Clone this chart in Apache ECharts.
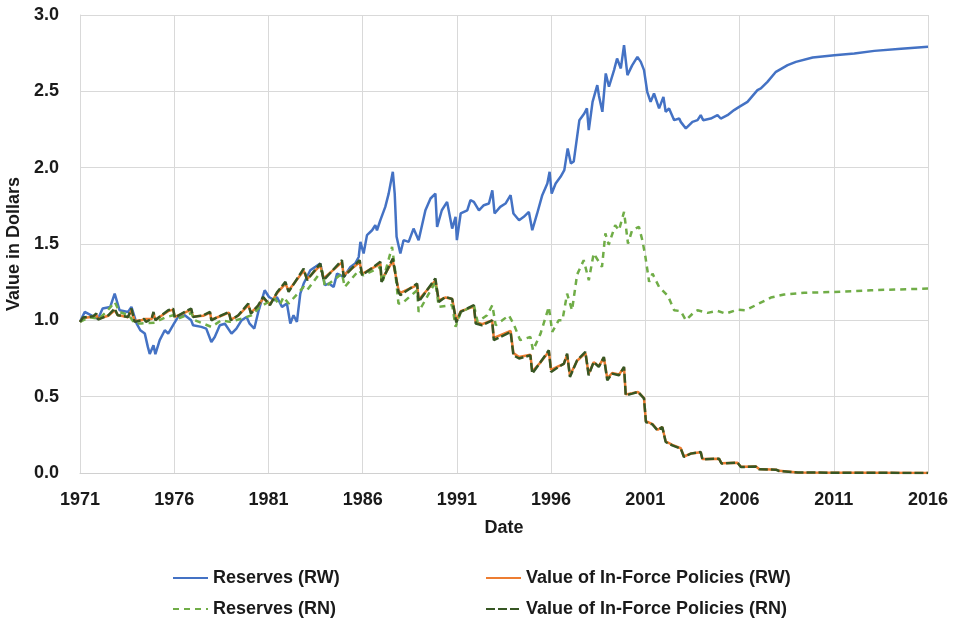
<!DOCTYPE html>
<html>
<head>
<meta charset="utf-8">
<script src="https://cdn.jsdelivr.net/npm/echarts@6/dist/echarts.min.js"></script>
<style>
	html, body { margin: 0; padding: 0; background: #fff; }
	#chart { width: 954px; height: 622px; }
</style>
</head>
<body>
<div id="chart"></div>
<script>
var BASE_YEAR = 1971;
var axisYears = [1971, 1976, 1981, 1986, 1991, 1996, 2001, 2006, 2011, 2016];
var seriesNames = ['Reserves (RW)', 'Value of In-Force Policies (RW)', 'Reserves (RN)', 'Value of In-Force Policies (RN)'];

// Reserves (RW)
var reservesRWYears = [1971.0, 1971.25, 1971.6, 1971.96, 1972.2, 1972.6, 1972.84, 1973.1, 1973.55, 1973.73, 1974.0, 1974.2, 1974.44, 1974.6, 1974.7, 1974.9, 1975.0, 1975.23, 1975.5, 1975.68, 1975.94, 1976.2, 1976.56, 1976.9, 1977.0, 1977.44, 1977.7, 1977.97, 1978.15, 1978.42, 1978.69, 1979.04, 1979.3, 1979.57, 1979.84, 1980.0, 1980.25, 1980.46, 1980.8, 1981.03, 1981.34, 1981.45, 1981.72, 1981.98, 1982.16, 1982.33, 1982.51, 1982.69, 1982.87, 1983.22, 1983.49, 1983.75, 1984.0, 1984.2, 1984.46, 1984.64, 1985.0, 1985.35, 1985.6, 1985.79, 1985.88, 1986.05, 1986.23, 1986.5, 1986.67, 1986.76, 1986.94, 1987.2, 1987.38, 1987.6, 1987.7, 1987.8, 1988.0, 1988.17, 1988.44, 1988.7, 1988.97, 1989.33, 1989.6, 1989.86, 1989.95, 1990.2, 1990.48, 1990.75, 1990.93, 1991.0, 1991.2, 1991.55, 1991.72, 1991.9, 1992.17, 1992.43, 1992.7, 1992.88, 1993.0, 1993.3, 1993.58, 1993.85, 1994.0, 1994.3, 1994.55, 1994.82, 1995.0, 1995.26, 1995.53, 1995.8, 1995.92, 1996.03, 1996.24, 1996.5, 1996.7, 1996.88, 1997.05, 1997.2, 1997.5, 1997.76, 1997.9, 1998.0, 1998.2, 1998.45, 1998.54, 1998.72, 1998.9, 1999.07, 1999.34, 1999.5, 1999.7, 1999.87, 2000.05, 2000.3, 2000.58, 2000.76, 2000.93, 2001.1, 2001.28, 2001.46, 2001.73, 2001.96, 2002.08, 2002.26, 2002.53, 2002.8, 2002.88, 2003.15, 2003.5, 2003.77, 2003.94, 2004.07, 2004.47, 2004.83, 2005.0, 2005.36, 2005.71, 2005.98, 2006.07, 2006.42, 2006.95, 2007.13, 2007.48, 2007.93, 2008.55, 2008.99, 2009.88, 2011.03, 2012.09, 2013.15, 2014.57, 2016.0];
var reservesRWValues = [0.99, 1.055, 1.033, 1.01, 1.077, 1.087, 1.175, 1.066, 1.055, 1.088, 0.98, 0.935, 0.913, 0.826, 0.78, 0.837, 0.778, 0.87, 0.935, 0.913, 0.968, 1.022, 1.033, 1.0, 0.968, 0.957, 0.946, 0.858, 0.891, 0.968, 0.978, 0.913, 0.946, 1.0, 1.022, 0.978, 0.946, 1.055, 1.197, 1.153, 1.13, 1.153, 1.088, 1.11, 0.979, 1.033, 0.99, 1.175, 1.241, 1.328, 1.35, 1.372, 1.23, 1.241, 1.219, 1.306, 1.284, 1.35, 1.372, 1.415, 1.514, 1.438, 1.558, 1.59, 1.623, 1.59, 1.656, 1.743, 1.83, 1.973, 1.83, 1.547, 1.438, 1.525, 1.514, 1.601, 1.525, 1.721, 1.798, 1.83, 1.612, 1.721, 1.776, 1.601, 1.678, 1.525, 1.70, 1.72, 1.787, 1.776, 1.72, 1.754, 1.765, 1.852, 1.70, 1.743, 1.765, 1.82, 1.70, 1.656, 1.678, 1.71, 1.59, 1.70, 1.82, 1.896, 1.973, 1.83, 1.896, 1.94, 1.984, 2.126, 2.028, 2.04, 2.311, 2.355, 2.388, 2.246, 2.431, 2.541, 2.47, 2.366, 2.617, 2.53, 2.639, 2.715, 2.65, 2.803, 2.606, 2.67, 2.726, 2.693, 2.639, 2.497, 2.431, 2.486, 2.388, 2.464, 2.366, 2.388, 2.311, 2.322, 2.30, 2.257, 2.30, 2.311, 2.344, 2.311, 2.322, 2.344, 2.322, 2.344, 2.377, 2.398, 2.388, 2.431, 2.508, 2.519, 2.562, 2.628, 2.672, 2.693, 2.722, 2.737, 2.748, 2.765, 2.779, 2.792];

// Value of In-Force Policies (RW and RN share the same dates)
var policyYears = [1971.0, 1971.16, 1971.7, 1971.87, 1971.96, 1972.5, 1972.84, 1973.0, 1973.55, 1973.73, 1973.9, 1974.26, 1974.4, 1974.5, 1974.8, 1974.9, 1975.0, 1975.32, 1975.68, 1975.94, 1976.03, 1976.56, 1976.9, 1977.0, 1977.54, 1977.9, 1977.97, 1978.5, 1978.9, 1979.0, 1979.4, 1979.93, 1980.07, 1980.46, 1980.72, 1981.08, 1981.47, 1981.9, 1982.07, 1982.87, 1983.05, 1983.75, 1983.93, 1984.9, 1984.99, 1985.84, 1985.97, 1986.94, 1987.0, 1987.6, 1987.9, 1988.0, 1988.89, 1988.97, 1989.86, 1990.04, 1990.4, 1990.75, 1990.97, 1991.2, 1991.9, 1992.0, 1992.34, 1992.87, 1992.96, 1993.85, 1994.0, 1994.3, 1994.9, 1995.0, 1995.44, 1995.88, 1996.0, 1996.4, 1996.68, 1996.85, 1997.0, 1997.38, 1997.82, 1997.99, 1998.26, 1998.53, 1998.8, 1998.98, 1999.24, 1999.6, 1999.87, 1999.96, 2000.3, 2000.62, 2000.93, 2001.03, 2001.38, 2001.64, 2001.9, 2002.08, 2002.43, 2002.88, 2003.05, 2003.41, 2003.94, 2004.03, 2004.91, 2005.04, 2005.89, 2006.07, 2006.87, 2007.04, 2007.93, 2008.1, 2009.08, 2016.0];
var policiesRWValues = [0.99, 1.015, 1.024, 1.035, 1.01, 1.03, 1.065, 1.035, 1.02, 1.065, 0.995, 1.0, 1.008, 0.995, 1.008, 1.045, 1.003, 1.03, 1.06, 1.07, 1.022, 1.05, 1.07, 1.025, 1.03, 1.05, 1.005, 1.03, 1.05, 1.005, 1.03, 1.1, 1.05, 1.095, 1.145, 1.105, 1.18, 1.24, 1.195, 1.325, 1.27, 1.36, 1.275, 1.38, 1.295, 1.38, 1.305, 1.37, 1.265, 1.39, 1.2, 1.18, 1.23, 1.135, 1.26, 1.13, 1.15, 1.14, 0.995, 1.06, 1.09, 0.99, 0.975, 1.0, 0.885, 0.93, 0.785, 0.76, 0.775, 0.665, 0.725, 0.795, 0.675, 0.7, 0.715, 0.775, 0.64, 0.735, 0.785, 0.65, 0.725, 0.7, 0.755, 0.62, 0.655, 0.645, 0.69, 0.515, 0.522, 0.53, 0.49, 0.34, 0.32, 0.283, 0.3, 0.208, 0.184, 0.162, 0.108, 0.127, 0.136, 0.092, 0.093, 0.064, 0.067, 0.041, 0.042, 0.026, 0.022, 0.014, 0.004, 0.0];
var policiesRNValues = [0.99, 1.018, 1.027, 1.045, 1.005, 1.033, 1.077, 1.033, 1.022, 1.077, 0.99, 1.0, 1.01, 0.99, 1.01, 1.055, 1.0, 1.033, 1.066, 1.077, 1.018, 1.055, 1.077, 1.022, 1.033, 1.055, 1.0, 1.033, 1.055, 1.0, 1.033, 1.11, 1.044, 1.099, 1.153, 1.099, 1.186, 1.252, 1.186, 1.339, 1.263, 1.372, 1.263, 1.394, 1.284, 1.394, 1.295, 1.383, 1.252, 1.405, 1.186, 1.165, 1.241, 1.121, 1.274, 1.121, 1.153, 1.14, 0.985, 1.055, 1.099, 0.979, 0.968, 1.0, 0.87, 0.924, 0.771, 0.75, 0.771, 0.651, 0.727, 0.804, 0.662, 0.695, 0.716, 0.782, 0.629, 0.738, 0.793, 0.64, 0.727, 0.695, 0.76, 0.607, 0.651, 0.64, 0.695, 0.509, 0.52, 0.531, 0.488, 0.334, 0.318, 0.28, 0.301, 0.203, 0.181, 0.16, 0.105, 0.127, 0.138, 0.09, 0.094, 0.062, 0.068, 0.039, 0.042, 0.024, 0.022, 0.013, 0.003, 0.0];

// Reserves (RN)
var reservesRNYears = [1971.0, 1971.5, 1972.0, 1972.4, 1972.84, 1973.1, 1973.6, 1973.9, 1974.26, 1974.96, 1975.5, 1975.94, 1976.2, 1976.9, 1977.1, 1977.97, 1978.5, 1978.95, 1979.57, 1980.1, 1980.55, 1981.0, 1981.34, 1981.6, 1981.8, 1982.07, 1982.87, 1983.05, 1983.84, 1984.0, 1984.9, 1985.05, 1985.8, 1986.05, 1986.94, 1987.03, 1987.56, 1987.7, 1987.9, 1988.08, 1988.89, 1988.97, 1989.86, 1990.04, 1990.75, 1990.93, 1991.2, 1991.9, 1992.1, 1992.6, 1992.88, 1993.06, 1993.76, 1994.0, 1994.36, 1994.9, 1995.04, 1995.44, 1995.88, 1996.06, 1996.4, 1996.6, 1996.85, 1997.11, 1997.38, 1997.73, 1998.0, 1998.26, 1998.7, 1998.88, 1999.06, 1999.4, 1999.6, 1999.87, 2000.08, 2000.3, 2000.66, 2000.84, 2001.0, 2001.2, 2001.38, 2001.73, 2002.2, 2002.53, 2002.88, 2003.15, 2003.6, 2003.77, 2004.3, 2004.83, 2005.27, 2005.89, 2006.33, 2006.95, 2007.66, 2008.36, 2009.43, 2011.03, 2012.98, 2016.0];
var reservesRNValues = [0.99, 1.02, 1.01, 1.055, 1.12, 1.055, 1.033, 0.98, 0.98, 0.985, 1.018, 1.033, 1.01, 1.048, 1.0, 0.957, 1.0, 0.99, 1.01, 1.033, 1.088, 1.12, 1.142, 1.10, 1.153, 1.11, 1.219, 1.197, 1.328, 1.219, 1.306, 1.219, 1.328, 1.295, 1.35, 1.241, 1.481, 1.35, 1.11, 1.11, 1.197, 1.055, 1.252, 1.088, 1.10, 0.957, 1.05, 1.099, 0.99, 1.033, 1.099, 0.968, 1.033, 0.979, 0.87, 0.891, 0.804, 0.913, 1.088, 0.924, 1.0, 1.0, 1.175, 1.066, 1.30, 1.394, 1.263, 1.438, 1.35, 1.569, 1.495, 1.623, 1.59, 1.71, 1.503, 1.59, 1.612, 1.525, 1.42, 1.252, 1.306, 1.219, 1.16, 1.066, 1.06, 1.0, 1.055, 1.066, 1.049, 1.062, 1.044, 1.07, 1.066, 1.105, 1.149, 1.169, 1.18, 1.186, 1.197, 1.208];

function pairUp(years, values) {
	var out = [];
	for (var i = 0; i < years.length; i++) {
		out.push([years[i] - BASE_YEAR, values[i]]);
	}
	return out;
}

var textColor = '#1a1a1a';
var fontFamily = '"Liberation Sans", Arial, sans-serif';

// one legend per entry so the two columns line up like the original
function legendItem(name, left, top) {
	return {
		data: [name],
		left: left,
		top: top,
		itemWidth: 35,
		itemHeight: 14,
		itemStyle: { opacity: 0 },
		textStyle: { fontSize: 18, fontWeight: 'bold', color: textColor, fontFamily: fontFamily }
	};
}

var myChart = echarts.init(document.getElementById('chart'));
var option = {
	animation: false,
	grid: { left: 80, right: 26, top: 15, bottom: 149, outerBoundsMode: 'none', containLabel: false },
	legend: [
		legendItem(seriesNames[0], 167, 564),
		legendItem(seriesNames[1], 480, 564),
		legendItem(seriesNames[2], 167, 595),
		legendItem(seriesNames[3], 480, 595)
	],
	xAxis: {
		type: 'value',
		min: 0,
		max: axisYears[axisYears.length - 1] - BASE_YEAR,
		interval: 5,
		name: 'Date',
		nameLocation: 'middle',
		nameGap: 46,
		nameTextStyle: { fontSize: 18, fontWeight: 'bold', color: textColor, fontFamily: fontFamily },
		axisLine: { lineStyle: { color: '#d0d0d0', width: 1 } },
		axisTick: { show: false },
		axisLabel: {
			margin: 18,
			fontSize: 18,
			fontWeight: 'bold',
			color: textColor,
			fontFamily: fontFamily,
			formatter: function (v) { return String(v + BASE_YEAR); }
		},
		splitLine: { show: true, lineStyle: { color: '#d9d9d9', width: 1 } }
	},
	yAxis: {
		type: 'value',
		min: 0,
		max: 3,
		interval: 0.5,
		name: 'Value in Dollars',
		nameLocation: 'middle',
		nameGap: 54,
		nameTextStyle: { fontSize: 18, fontWeight: 'bold', color: textColor, fontFamily: fontFamily },
		axisLine: { show: true, lineStyle: { color: '#d9d9d9', width: 1 } },
		axisTick: { show: false },
		axisLabel: {
			margin: 21,
			fontSize: 18,
			fontWeight: 'bold',
			color: textColor,
			fontFamily: fontFamily,
			formatter: function (v) { return v.toFixed(1); }
		},
		splitLine: { show: true, lineStyle: { color: '#d9d9d9', width: 1 } }
	},
	series: [{
		name: seriesNames[0],
		type: 'line',
		symbol: 'none',
		color: '#4472C4',
		lineStyle: { width: 2.5, color: '#4472C4' },
		data: pairUp(reservesRWYears, reservesRWValues)
	}, {
		name: seriesNames[1],
		type: 'line',
		symbol: 'none',
		color: '#ED7D31',
		lineStyle: { width: 2.5, color: '#ED7D31' },
		data: pairUp(policyYears, policiesRWValues)
	}, {
		name: seriesNames[2],
		type: 'line',
		symbol: 'none',
		color: '#70AD47',
		lineStyle: { width: 2.5, color: '#70AD47', type: [6, 5] },
		data: pairUp(reservesRNYears, reservesRNValues)
	}, {
		name: seriesNames[3],
		type: 'line',
		symbol: 'none',
		color: '#375623',
		lineStyle: { width: 2.5, color: '#375623', type: [9, 3] },
		data: pairUp(policyYears, policiesRNValues)
	}]
};
myChart.setOption(option);
window.addEventListener('resize', function () {
	myChart.resize();
});
</script>
</body>
</html>
